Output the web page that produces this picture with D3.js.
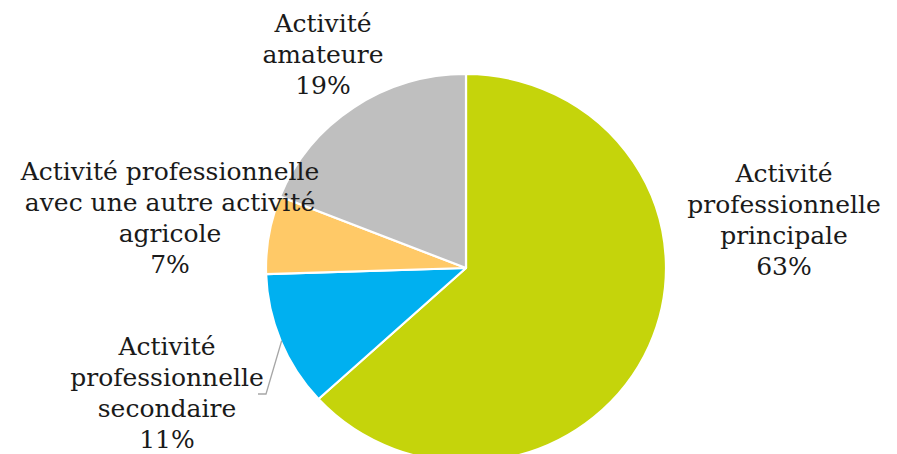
<!DOCTYPE html>
<html>
<head>
<meta charset="utf-8">
<script src="https://cdn.jsdelivr.net/npm/d3@7"></script>
<style>
  html, body { margin: 0; padding: 0; background: #ffffff; }
  svg { display: block; }
</style>
</head>
<body>
<svg id="chart" width="897" height="454"></svg>
<script>
// ---- data ----
const categories = [
  "Activité professionnelle principale",
  "Activité professionnelle secondaire",
  "Activité professionnelle avec une autre activité agricole",
  "Activité amateure"
];
const values = [63.2, 11.3, 6.5, 19.0];
const labelLines = [
  ["Activité", "professionnelle", "principale"],
  ["Activité", "professionnelle", "secondaire"],
  ["Activité professionnelle", "avec une autre activité", "agricole"],
  ["Activité", "amateure"]
];
const percentLabels = ["63%", "11%", "7%", "19%"];
const colors = ["#c5d40b", "#00b0f0", "#ffc967", "#bfbfbf"];

// ---- layout ----
const W = 897, H = 454;
const cx = 466, cy = 268, R = 200, yScale = 0.97;
const fontSize = 25, lineH = 31;
// label anchor: center x and first baseline y
const labelAnchors = [
  { x: 784, y: 182 },
  { x: 167, y: 355 },
  { x: 170, y: 180 },
  { x: 323, y: 32 }
];

const svg = d3.select("#chart");

const pie = d3.pie().sort(null).value(d => d)(values);
const arc = d3.arc().innerRadius(0).outerRadius(R);

const g = svg.append("g")
  .attr("transform", `translate(${cx},${cy}) scale(1,${yScale})`);

g.selectAll("path.slice")
  .data(pie)
  .join("path")
  .attr("class", "slice")
  .attr("d", arc)
  .attr("fill", (d, i) => colors[i])
  .attr("stroke", "#ffffff")
  .attr("stroke-width", 2.2)
  .attr("vector-effect", "non-scaling-stroke")
  .attr("stroke-linejoin", "round");

// leader line for the secondary slice
const blue = pie[1];
const midA = (blue.startAngle + blue.endAngle) / 2;
const px = cx + Math.sin(midA) * (R - 1);
const py = cy - Math.cos(midA) * (R - 1) * yScale;
svg.append("polyline")
  .attr("points", `${px},${py} ${266},${394} ${258},${394}`)
  .attr("fill", "none")
  .attr("stroke", "#a6a6a6")
  .attr("stroke-width", 1.3);

// labels
const labels = svg.append("g")
  .attr("font-family", "'DejaVu Serif', Georgia, serif")
  .attr("font-size", fontSize)
  .attr("fill", "#1a1a1a")
  .attr("text-anchor", "middle");

categories.forEach((c, i) => {
  const lines = labelLines[i].concat([percentLabels[i]]);
  const t = labels.append("text")
    .attr("x", labelAnchors[i].x)
    .attr("y", labelAnchors[i].y);
  lines.forEach((ln, j) => {
    t.append("tspan")
      .attr("x", labelAnchors[i].x)
      .attr("y", labelAnchors[i].y + j * lineH)
      .text(ln);
  });
});
</script>
</body>
</html>
